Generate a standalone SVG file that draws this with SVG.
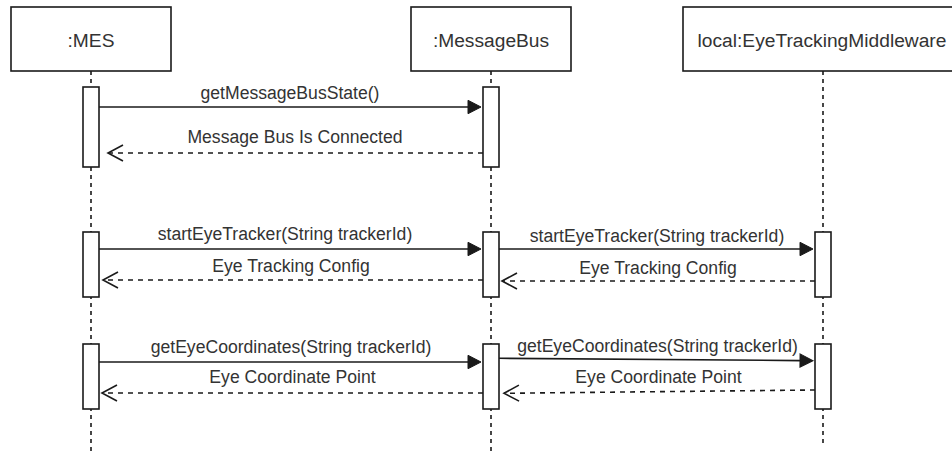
<svg xmlns="http://www.w3.org/2000/svg" width="952" height="452" viewBox="0 0 952 452">
  <style>
    .box { fill: #ffffff; stroke: #1a1a1a; stroke-width: 1.6; }
    .life { fill: none; stroke: #1a1a1a; stroke-width: 1.6; stroke-dasharray: 4 4; }
    .act { fill: #ffffff; stroke: #1a1a1a; stroke-width: 1.6; }
    .title { font-family: "Liberation Sans", Arial, sans-serif; font-size: 19.2px; fill: #333333; text-anchor: middle; dominant-baseline: central; }
    .lbl { font-family: "Liberation Sans", Arial, sans-serif; font-size: 17.6px; fill: #333333; text-anchor: middle; dominant-baseline: central; }
    .call { fill: none; stroke: #1a1a1a; stroke-width: 1.6; marker-end: url(#solid); }
    .ret { fill: none; stroke: #1a1a1a; stroke-width: 1.6; stroke-dasharray: 5 5; marker-end: url(#open); }
  </style>
  <defs>
    <marker id="solid" markerUnits="userSpaceOnUse" viewBox="-1 -8 15 16" refX="0" refY="0" markerWidth="15" markerHeight="16" orient="auto" overflow="visible">
      <path d="M0,-6.7 L13,0 L0,6.7 Z" fill="#1a1a1a" stroke="#1a1a1a" stroke-width="1"/>
    </marker>
    <marker id="open" markerUnits="userSpaceOnUse" viewBox="-17 -10 19 20" refX="0" refY="0" markerWidth="19" markerHeight="20" orient="auto" overflow="visible">
      <path d="M-15,-8 L0,0 L-15,8" fill="none" stroke="#1a1a1a" stroke-width="1.6"/>
    </marker>
  </defs>

  <!-- lifelines with their head boxes and activation bars -->
  <g id="mes">
    <line class="life" x1="91" y1="71" x2="91" y2="452"/>
    <rect class="box" x="11" y="7" width="160" height="64"/>
    <text class="title" x="91" y="40">:MES</text>
    <rect class="act" x="83" y="87" width="16" height="80"/>
    <rect class="act" x="83" y="232" width="16" height="65"/>
    <rect class="act" x="83" y="344" width="16" height="65"/>
  </g>
  <g id="messagebus">
    <line class="life" x1="491" y1="71" x2="491" y2="452"/>
    <rect class="box" x="411" y="7" width="160" height="64"/>
    <text class="title" x="491" y="40">:MessageBus</text>
    <rect class="act" x="483" y="87" width="16" height="80"/>
    <rect class="act" x="483" y="232" width="16" height="65"/>
    <rect class="act" x="483" y="344" width="16" height="65"/>
  </g>
  <g id="middleware">
    <line class="life" x1="823" y1="71" x2="823" y2="446"/>
    <rect class="box" x="683" y="7" width="280" height="64"/>
    <text class="title" x="822" y="40">local:EyeTrackingMiddleware</text>
    <rect class="act" x="815" y="232" width="16" height="65"/>
    <rect class="act" x="815" y="344" width="16" height="65"/>
  </g>

  <!-- messages -->
  <g id="connectors">
    <line class="call" x1="99" y1="107" x2="468" y2="107"/>
    <text class="lbl" x="290" y="93">getMessageBusState()</text>
    <line class="ret" x1="483" y1="153" x2="108" y2="153"/>
    <text class="lbl" x="295" y="137">Message Bus Is Connected</text>

    <line class="call" x1="99" y1="249" x2="468" y2="249"/>
    <text class="lbl" x="285" y="234">startEyeTracker(String trackerId)</text>
    <line class="ret" x1="483" y1="280" x2="103" y2="280"/>
    <text class="lbl" x="291" y="266">Eye Tracking Config</text>

    <line class="call" x1="499" y1="249" x2="800" y2="249"/>
    <text class="lbl" x="657" y="236">startEyeTracker(String trackerId)</text>
    <line class="ret" x1="815" y1="281" x2="502" y2="281"/>
    <text class="lbl" x="658" y="268">Eye Tracking Config</text>

    <line class="call" x1="99" y1="362" x2="468" y2="362"/>
    <text class="lbl" x="291" y="347">getEyeCoordinates(String trackerId)</text>
    <line class="ret" x1="483" y1="393" x2="102" y2="393"/>
    <text class="lbl" x="292.5" y="377">Eye Coordinate Point</text>

    <line class="call" x1="499" y1="358.3" x2="800" y2="360.6"/>
    <text class="lbl" x="657.5" y="346">getEyeCoordinates(String trackerId)</text>
    <line class="ret" x1="815" y1="390" x2="504" y2="393.3"/>
    <text class="lbl" x="658.5" y="377">Eye Coordinate Point</text>
  </g>
</svg>
